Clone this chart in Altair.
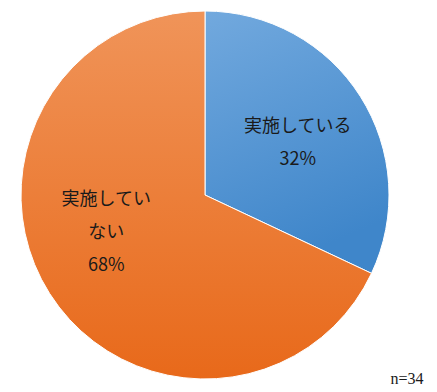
import altair as alt
import pandas as pd

categories = ["実施している", "実施していない"]
values = [32, 68]
labels = ["実施している\n32%", "実施してい\nない\n68%"]
note = "n=34"

df = pd.DataFrame({"cat": categories, "val": values, "label": labels, "order": [0, 1]})

blue_grad = alt.Gradient(
    gradient="linear", x1=0, y1=0, x2=0.3, y2=1,
    stops=[alt.GradientStop(color="#72A9DE", offset=0),
           alt.GradientStop(color="#3F86CA", offset=1)])
orange_grad = alt.Gradient(
    gradient="linear", x1=0, y1=0, x2=0, y2=1,
    stops=[alt.GradientStop(color="#F09459", offset=0),
           alt.GradientStop(color="#E8691A", offset=1)])

base = alt.Chart(df).encode(
    theta=alt.Theta("val:Q", stack=True),
    order=alt.Order("order:Q"),
    x=alt.value(205), y=alt.value(195),
)

pie = base.mark_arc(outerRadius=184, stroke="white", strokeWidth=1).encode(
    fill=alt.condition(alt.datum.cat == categories[0], alt.value(blue_grad), alt.value(orange_grad))
)

text = base.mark_text(radius=104, fontSize=18, font="Noto Sans CJK JP", color="#1a1a1a",
                      lineBreak="\n", lineHeight=33, baseline="middle",
                      dx=alt.expr("datum.order === 0 ? 5 : -11"),
                      dy=alt.expr("datum.order === 0 ? -12 : -51")).encode(
    text="label:N"
)

note_df = pd.DataFrame({"t": [note]})
note_txt = alt.Chart(note_df).mark_text(font="Liberation Serif", fontSize=16, color="#1a1a1a",
                                         align="center", baseline="middle").encode(
    text="t:N", x=alt.value(407), y=alt.value(379)
)

chart = alt.layer(pie, text, note_txt).properties(
    width=437, height=392, autosize=alt.AutoSizeParams(type="none"), padding=0
).configure_view(stroke=None)

chart.save("out.html", embed_options={"renderer": "svg", "actions": False})
